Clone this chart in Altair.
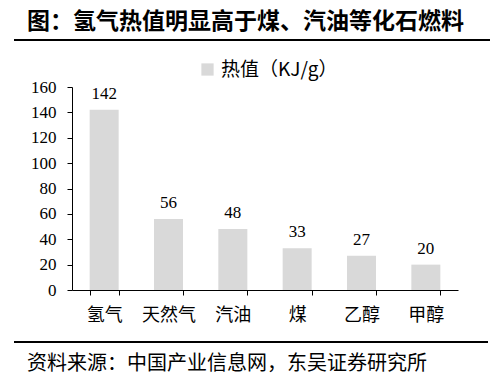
import altair as alt
import pandas as pd

categories = ["氢气", "天然气", "汽油", "煤", "乙醇", "甲醇"]
values = [142, 56, 48, 33, 27, 20]
series_name = "热值（KJ/g）"
title_text = "图：氢气热值明显高于煤、汽油等化石燃料"
source_text = "资料来源：中国产业信息网，东吴证券研究所"
y_ticks = [0, 20, 40, 60, 80, 100, 120, 140, 160]

df = pd.DataFrame({"cat": categories, "val": values, "series": [series_name] * len(categories)})

CJK = "Noto Sans CJK SC"
SERIF = "Liberation Serif, Times New Roman, serif"

x_enc = alt.X("cat:N", sort=categories, title=None,
              scale=alt.Scale(paddingInner=0.55, paddingOuter=0.275),
              axis=alt.Axis(labelAngle=0, labelFont=CJK, labelFontSize=18, labelColor="#000",
                            domainColor="#000", tickColor="#000", tickSize=5,
                            tickBand="extent", labelPadding=11, grid=False))
y_enc = alt.Y("val:Q", title=None,
              scale=alt.Scale(domain=[0, 160], nice=False),
              axis=alt.Axis(values=y_ticks, labelFont=SERIF, labelFontSize=17, labelColor="#000",
                            domainColor="#000", tickColor="#000", tickSize=5,
                            labelOverlap=False, labelPadding=11, grid=False))

base = alt.Chart(df)

bars = base.mark_bar(color="#d9d9d9", size=29).encode(
    x=x_enc,
    y=y_enc,
    color=alt.Color("series:N", title=None,
                    scale=alt.Scale(range=["#d9d9d9"]),
                    legend=alt.Legend(orient="none", legendX=126, legendY=-27,
                                      symbolType="square", symbolSize=150,
                                      symbolStrokeWidth=0, symbolOpacity=1,
                                      labelFont=CJK, labelFontSize=19, labelColor="#000",
                                      labelLimit=300, padding=0)),
)

labels = base.mark_text(font=SERIF, fontSize=17, baseline="bottom", dy=-7, color="#000").encode(
    x=x_enc,
    y=y_enc,
    text="val:Q",
)

title = alt.Chart(pd.DataFrame({"t": [title_text]})).mark_text(
    font=CJK, fontSize=23, fontWeight="bold", align="left", baseline="middle", color="#000"
).encode(x=alt.value(-45), y=alt.value(-65), text="t:N")

top_line = alt.Chart(pd.DataFrame({"a": [0]})).mark_rule(color="#000", strokeWidth=2).encode(
    x=alt.value(-58), x2=alt.value(418), y=alt.value(-47))

bottom_line = alt.Chart(pd.DataFrame({"a": [0]})).mark_rule(color="#000", strokeWidth=2).encode(
    x=alt.value(-58), x2=alt.value(416), y=alt.value(255))

source = alt.Chart(pd.DataFrame({"t": [source_text]})).mark_text(
    font=CJK, fontSize=20, align="left", baseline="middle", color="#000"
).encode(x=alt.value(-45), y=alt.value(277), text="t:N")

chart = alt.layer(bars, labels, title, top_line, bottom_line, source).properties(
    width=386, height=203,
    autosize=alt.AutoSizeParams(type="none"),
    padding={"left": 64, "top": 79, "right": 37, "bottom": 91},
).configure_view(stroke=None)

chart.save("out.html", embed_options={"renderer": "svg", "actions": False})
